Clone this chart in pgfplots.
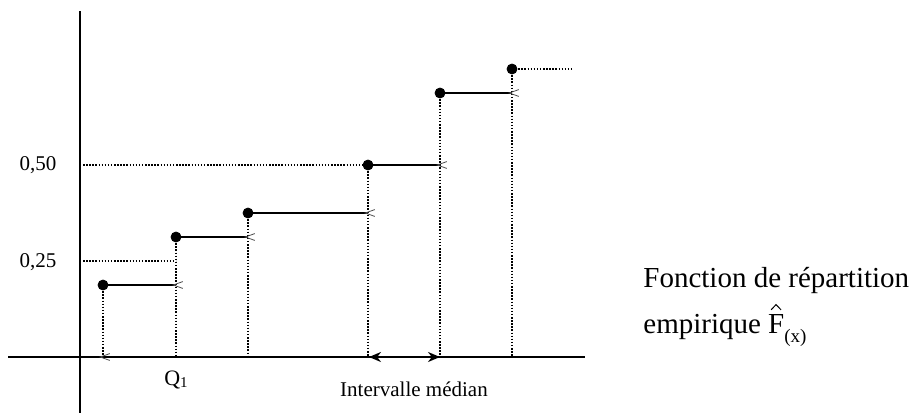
\documentclass[border=0pt]{standalone}
\usepackage{fontspec}
\setmainfont{Liberation Serif}
\usepackage{pgfplots}
\pgfplotsset{compat=1.18}
\usetikzlibrary{arrows.meta}
\pgfdeclareplotmark{lt}{%
  \pgfpathmoveto{\pgfpoint{3.4pt}{1.7pt}}%
  \pgfpathlineto{\pgfpoint{-1.4pt}{0pt}}%
  \pgfpathlineto{\pgfpoint{3.4pt}{-1.7pt}}%
  \pgfusepathqstroke}
\newcommand{\hatF}{\rlap{\tikz[baseline=0pt, overlay]\draw[line width=0.5pt, line join=miter] (0.1em,0.8em)--(0.27em,0.98em)--(0.44em,0.8em);}F}
\begin{document}
\begin{tikzpicture}
\begin{axis}[scale only axis, width=457.5pt, height=206.5pt,
  xmin=0, xmax=915, ymin=-0.14583, ymax=0.92969, hide axis, clip=false,
  dots/.style={line width=0.75pt, dash pattern=on 0.75pt off 0.8pt},
  step/.style={line width=0.9pt, mark=lt, mark indices={2}, mark options={gray!60!black, line width=0.4pt, solid}}]
\path (axis cs:0,-0.14583) rectangle (axis cs:915,0.92969);
% dotted guides
\addplot[dots] coordinates {(103,0.1875)(103,0)};
\addplot[dots] coordinates {(176,0.3125)(176,0)};
\addplot[dots] coordinates {(248,0.375)(248,0)};
\addplot[dots] coordinates {(368,0.5)(368,0)};
\addplot[dots] coordinates {(440,0.6875)(440,0)};
\addplot[dots] coordinates {(512,0.75)(512,0)};
\addplot[dots] coordinates {(83,0.5)(368,0.5)};
\addplot[dots] coordinates {(83,0.25)(176,0.25)};
\addplot[dots] coordinates {(512,0.75)(573,0.75)};
% axes
\addplot[line width=1.1pt] coordinates {(8,0)(585,0)};
\addplot[line width=1.1pt] coordinates {(80,0.901)(80,-0.14583)};
% steps
\addplot[step] coordinates {(103,0.1875)(176,0.1875)};
\addplot[step] coordinates {(176,0.3125)(248,0.3125)};
\addplot[step] coordinates {(248,0.375)(368,0.375)};
\addplot[step] coordinates {(368,0.5)(440,0.5)};
\addplot[step] coordinates {(440,0.6875)(512,0.6875)};
\addplot[only marks, mark=lt, mark options={gray!60!black, line width=0.4pt}] coordinates {(103,0)};
\addplot[only marks, mark=*, mark size=2.5pt, black] coordinates {(103,0.1875)(176,0.3125)(248,0.375)(368,0.5)(440,0.6875)(512,0.75)};
% median interval
\addplot[line width=1.3pt, {Stealth[length=6pt,width=5pt]}-{Stealth[length=6pt,width=5pt]}] coordinates {(369,0)(440,0)};
% labels
\node[font=\fontsize{10.5}{12}\selectfont] at (axis cs:38,0.5) {0,50};
\node[font=\fontsize{10.5}{12}\selectfont] at (axis cs:38,0.2474) {0,25};
\node[font=\fontsize{11}{12}\selectfont, anchor=base] at (axis cs:176,-0.0729) {Q\raisebox{-0.2ex}{\fontsize{7.5}{8}\selectfont 1}};
\node[font=\fontsize{10.5}{12}\selectfont, anchor=base] at (axis cs:414,-0.1016) {Intervalle médian};
\node[font=\fontsize{14.5}{16}\selectfont, anchor=base west, inner sep=0pt] at (axis cs:643,0.1823) {Fonction de répartition};
\node[font=\fontsize{14.5}{16}\selectfont, anchor=base west, inner sep=0pt] at (axis cs:643,0.0625) {empirique \hatF\raisebox{-0.32em}{\fontsize{9.5}{10}\selectfont(x)}};
\end{axis}
\end{tikzpicture}
\end{document}
